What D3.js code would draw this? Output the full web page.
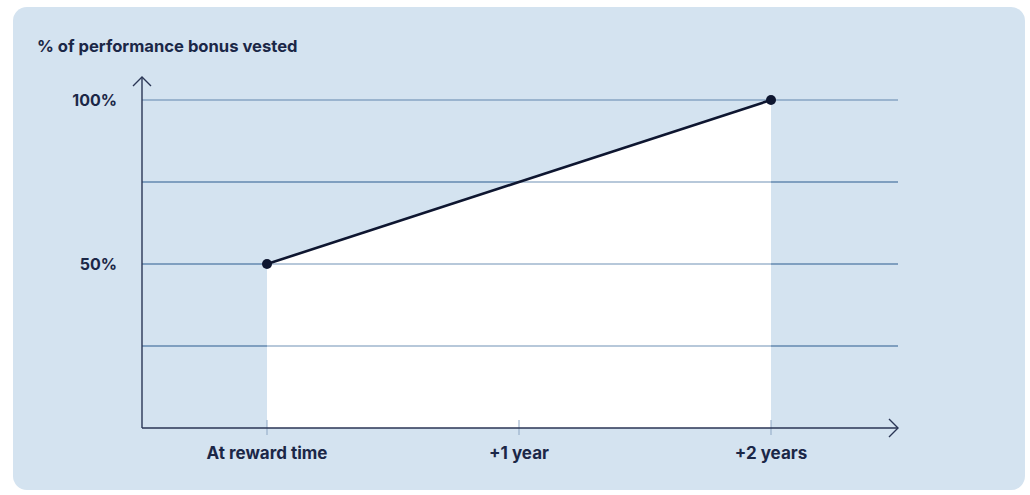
<!DOCTYPE html>
<html>
<head>
<meta charset="utf-8">
<script src="https://cdn.jsdelivr.net/npm/d3@7"></script>
<style>
  html, body { margin: 0; padding: 0; background: #ffffff; }
  svg { display: block; font-family: Inter, "Noto Sans", sans-serif; }
</style>
</head>
<body>
<svg id="chart" width="1030" height="495"></svg>
<script>
// Vesting schedule of the performance bonus
const categories = ["At reward time", "+1 year", "+2 years"];
const vestedPct = [50, 75, 100];
const gridValues = [25, 50, 75, 100];
const yTickLabels = [50, 100];
const title = "% of performance bonus vested";

const svg = d3.select("#chart");
const ink = "#1b2747";
const lineInk = "#0e1630";

// Panel
svg.append("rect")
  .attr("x", 13).attr("y", 7)
  .attr("width", 1012).attr("height", 483)
  .attr("rx", 14)
  .attr("fill", "#d4e3f0");

const x0 = 142, x1 = 898, yBase = 428;
const x = d3.scalePoint().domain(categories).range([267, 771]);
const y = d3.scaleLinear().domain([0, 100]).range([yBase, 100]);

// Title
svg.append("text")
  .attr("x", 37).attr("y", 52)
  .attr("fill", ink)
  .attr("font-size", 16.6).attr("font-weight", 700)
  .text(title);

// Horizontal grid lines
svg.append("g").selectAll("line").data(gridValues).join("line")
  .attr("x1", x0).attr("x2", x1)
  .attr("y1", d => y(d)).attr("y2", d => y(d))
  .attr("stroke", "#6185ad").attr("stroke-width", 1);

// White area under the vesting line
const pts = categories.map((c, i) => ({ c, v: vestedPct[i] }));
svg.append("path")
  .datum(pts)
  .attr("fill", "#ffffff")
  .attr("d", d3.area().x(d => x(d.c)).y0(y(0)).y1(d => y(d.v)));

// Grid lines stay visible over the white area
svg.append("g").selectAll("line").data(gridValues.filter(v => v < 100)).join("line")
  .attr("x1", x0).attr("x2", x1)
  .attr("y1", d => y(d)).attr("y2", d => y(d))
  .attr("stroke", "#6185ad").attr("stroke-width", 1)
  .attr("stroke-opacity", 0.9);

// Y-axis labels
svg.append("g").selectAll("text").data(yTickLabels).join("text")
  .attr("x", 117).attr("y", d => y(d))
  .attr("dy", "0.35em")
  .attr("text-anchor", "end")
  .attr("fill", ink)
  .attr("font-size", 16).attr("font-weight", 700)
  .text(d => d + "%");

// X-axis tick marks
svg.append("g").selectAll("line").data(categories).join("line")
  .attr("x1", d => x(d)).attr("x2", d => x(d))
  .attr("y1", yBase - 8).attr("y2", yBase + 7)
  .attr("stroke", "#8ea7c4").attr("stroke-width", 1);

// X-axis labels
svg.append("g").selectAll("text").data(categories).join("text")
  .attr("x", d => x(d)).attr("y", 459)
  .attr("text-anchor", "middle")
  .attr("fill", ink)
  .attr("font-size", 17).attr("font-weight", 700)
  .text(d => d);

// Axes with arrowheads
const axisG = svg.append("g").attr("fill", "none").attr("stroke", "#2a3555").attr("stroke-width", 1.4);
axisG.append("path").attr("d", `M${x0},${yBase} V77`);
axisG.append("path").attr("d", `M${x0 - 9},86 L${x0},77 L${x0 + 9},86`);
axisG.append("path").attr("d", `M${x0},${yBase} H${x1}`);
axisG.append("path").attr("d", `M${x1 - 9},${yBase - 9} L${x1},${yBase} L${x1 - 9},${yBase + 9}`);

// Vesting line
svg.append("path")
  .datum(pts)
  .attr("fill", "none")
  .attr("stroke", lineInk)
  .attr("stroke-width", 2.6)
  .attr("d", d3.line().x(d => x(d.c)).y(d => y(d.v)));

// Start and end markers
svg.append("g").selectAll("circle").data([pts[0], pts[pts.length - 1]]).join("circle")
  .attr("cx", d => x(d.c)).attr("cy", d => y(d.v))
  .attr("r", 5)
  .attr("fill", lineInk);
</script>
</body>
</html>
